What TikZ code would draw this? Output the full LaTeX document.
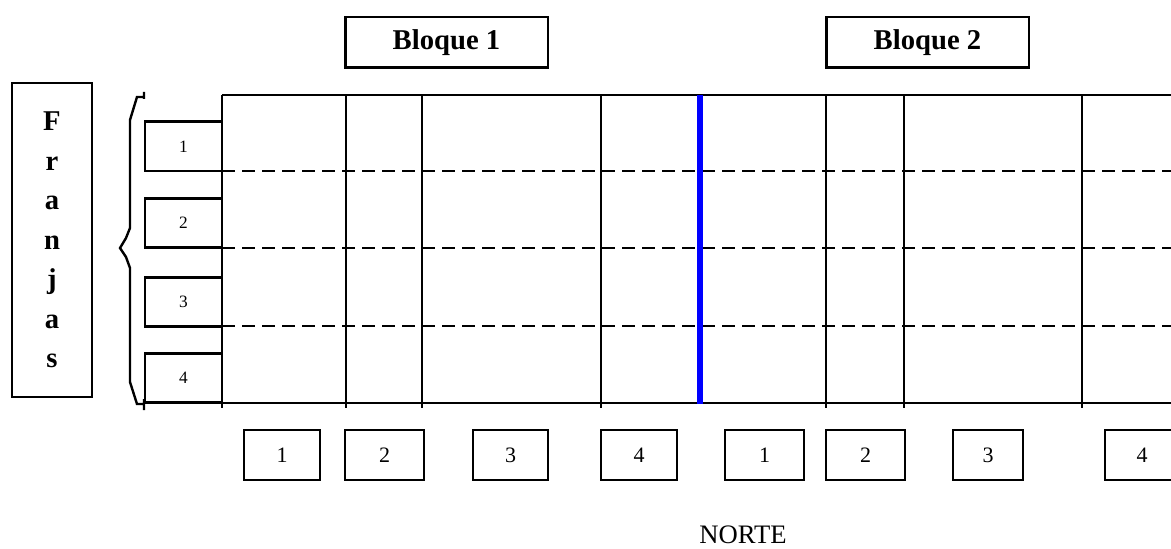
\documentclass[tikz,border=0pt]{standalone}
\usepackage{fontspec}
\setmainfont{Liberation Serif}
\usetikzlibrary{positioning}

\begin{document}
\begin{tikzpicture}[
    x=0.75pt, y=-0.75pt,
    box/.style={draw, line width=2pt, inner sep=0pt, align=center},
    bloquebox/.style={box, minimum width=152pt, minimum height=38pt, font=\fontsize{21.5}{24}\selectfont\bfseries},
    franjabox/.style={box, line width=1.5pt, minimum width=60pt, minimum height=235pt, font=\fontsize{21.5}{29.6}\selectfont\bfseries},
    numbox/.style={box, minimum height=37.5pt, font=\fontsize{16.5}{18}\selectfont},
    sidebox/.style={box, minimum width=57.75pt, minimum height=37pt, font=\fontsize{13}{15}\selectfont},
    gridline/.style={line width=2.2pt},
    stripline/.style={line width=2.2pt, dash pattern=on 10pt off 5pt}
]
    \useasboundingbox (0,0) rectangle (1171,549);

    % Headers
    \node[bloquebox] (bloque1) at (446.5,42.5) {Bloque 1};
    \node[bloquebox] (bloque2) at (927.5,42.5) {Bloque 2};
    \node[franjabox] (franjas) at (52,240) {F\\r\\a\\n\\j\\a\\s};

    % Field grid
    \draw[gridline] (222,95) -- (1175,95);
    \draw[gridline] (145,403) -- (1175,403);
    \foreach \x in {222,346,422,601,826,904,1082}
        \draw[gridline] (\x,95) -- (\x,408);
    \foreach \y in {171,248,326}
        \draw[stripline] (222,\y) -- (1175,\y);
    \draw[blue, line width=4.5pt] (700,95) -- (700,404);

    % Strips
    \node[sidebox] (f1) at (183.5,146.5) {1};
    \node[sidebox] (f2) at (183.5,223) {2};
    \node[sidebox] (f3) at (183.5,302) {3};
    \node[sidebox] (f4) at (183.5,378) {4};
    \draw[line width=1.8pt] (144,92) -- (144,99) (144,97) -- (137,97) -- (130,120) -- (130,228)
        -- (126,238) -- (120,248) -- (126,257) -- (130,268) -- (130,382) -- (137,404) -- (144,404)
        (144,399) -- (144,410);

    % Plots
    \node[numbox, minimum width=57pt] (b1) at (282,455) {1};
    \node[numbox, minimum width=59.25pt] (b2) at (384.5,455) {2};
    \node[numbox, minimum width=56.25pt] (b3) at (510.5,455) {3};
    \node[numbox, minimum width=57pt] (b4) at (639,455) {4};
    \node[numbox, minimum width=59.25pt] (b5) at (764.5,455) {1};
    \node[numbox, minimum width=59.25pt] (b6) at (865.5,455) {2};
    \node[numbox, minimum width=52.5pt] (b7) at (988,455) {3};
    \node[numbox, minimum width=55.5pt] (b8) at (1142,455) {4};

    \node[inner sep=0pt, font=\fontsize{20}{22}\selectfont] (norte) at (743,535) {NORTE};
\end{tikzpicture}
\end{document}
